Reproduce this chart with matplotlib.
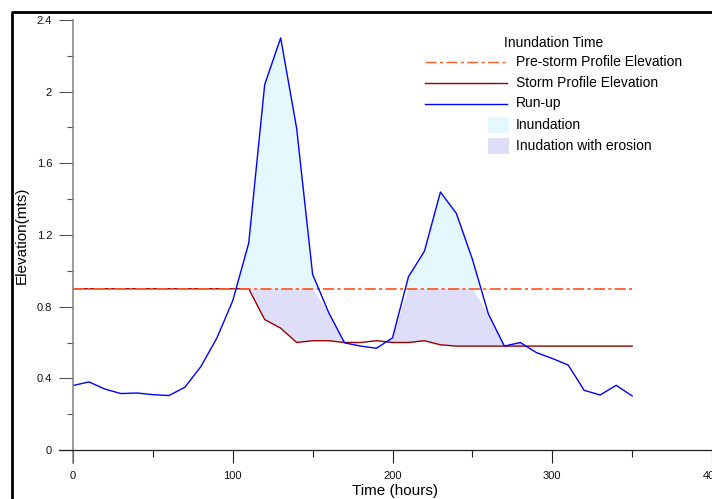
import numpy as np
import matplotlib
matplotlib.use("Agg")
import matplotlib.pyplot as plt
from matplotlib.lines import Line2D
from matplotlib.patches import Rectangle

plt.rcParams['font.family'] = ['Liberation Sans', 'DejaVu Sans']
plt.rcParams['lines.scale_dashes'] = False

# ---- data ----
time_h = [0, 10, 20, 30, 40, 50, 60, 70, 80, 90, 100, 110, 120, 130, 140, 150, 160, 170,
          180, 190, 200, 210, 220, 230, 240, 250, 260, 270, 280, 290, 300, 310, 320, 330, 340, 350]
runup = [0.36, 0.38, 0.34, 0.315, 0.318, 0.309, 0.304, 0.35, 0.465, 0.624, 0.833, 1.155, 2.04, 2.30,
         1.795, 0.98, 0.768, 0.598, 0.58, 0.568, 0.626, 0.967, 1.11, 1.44, 1.32, 1.065, 0.76, 0.58,
         0.60, 0.544, 0.511, 0.474, 0.333, 0.307, 0.361, 0.302]
prestorm = [0.9] * 36
storm = [0.9, 0.9, 0.9, 0.9, 0.9, 0.9, 0.9, 0.9, 0.9, 0.9, 0.9, 0.9, 0.728, 0.68, 0.60, 0.61,
         0.61, 0.60, 0.60, 0.61, 0.60, 0.60, 0.61, 0.587, 0.58, 0.58, 0.58, 0.58, 0.58, 0.58,
         0.58, 0.58, 0.58, 0.58, 0.58, 0.58]
xticks = [0, 100, 200, 300, 400]
yticks = [0, 0.4, 0.8, 1.2, 1.6, 2.0, 2.4]
ytick_labels = ['0', '0.4', '0.8', '1.2', '1.6', '2', '2.4']
legend_title = 'Inundation Time'
legend_labels = ['Pre-storm Profile Elevation', 'Storm Profile Elevation', 'Run-up',
                 'Inundation', 'Inudation with erosion']

t = np.array(time_h, float)
ru = np.array(runup, float)
pre = np.array(prestorm, float)
st = np.array(storm, float)

W, H = 712, 499
fig = plt.figure(figsize=(W / 100, H / 100), dpi=100)

def fp(x, y):
    return (x / W, 1 - y / H)

AX_L, AX_R, AX_T, AX_B = 73, 712, 20, 450
ax = fig.add_axes([AX_L / W, 1 - AX_B / H, (AX_R - AX_L) / W, (AX_B - AX_T) / H])
ax.set_xlim(0, 400)
ax.set_ylim(0, 2.4)

C_PRE = '#FF5F2A'
C_STORM = '#990000'
C_RUN = '#0000FF'
C_INUN = '#E4F8FD'
C_EROS = '#DEDEF9'
DASH = (8.0, 2.4, 2.2, 2.4)

# fills
ax.fill_between(t, pre, ru, where=ru > pre, interpolate=True, facecolor=C_INUN,
                edgecolor='none', zorder=1)
top = np.minimum(ru, pre)
ax.fill_between(t, st, top, where=top > st, interpolate=True, facecolor=C_EROS,
                edgecolor='none', zorder=1)

ax.plot(t, st, color=C_STORM, lw=1.0, zorder=3)
ax.plot(t, pre, color=C_PRE, lw=1.3, dashes=DASH, zorder=4)
ax.plot(t, ru, color=C_RUN, lw=1.0, zorder=5)

# axes styling
for s in ax.spines.values():
    s.set_visible(False)
ax.set_xticks(xticks)
ax.set_xticks([50, 150, 250, 350], minor=True)
ax.set_yticks(yticks)
ax.set_yticklabels(ytick_labels)
ax.set_yticks([0.2, 0.6, 1.0, 1.4, 1.8, 2.2], minor=True)
ax.tick_params(axis='y', which='major', length=10, width=0.8, color='#555555', pad=5,
               labelsize=8, labelcolor='#111111')
ax.tick_params(axis='y', which='minor', length=4.5, width=0.8, color='#555555')
ax.tick_params(axis='x', which='major', length=9, width=0.8, color='#222222', pad=6,
               labelsize=8, labelcolor='#111111')
ax.tick_params(axis='x', which='minor', length=5, width=0.8, color='#222222')

# axis lines (extend beyond origin)
fig.add_artist(Line2D([fp(AX_L, 0)[0]] * 2, [fp(0, AX_T)[1], fp(0, 463)[1]],
                      transform=fig.transFigure, color='#808080', lw=1.1))
fig.add_artist(Line2D([fp(59, 0)[0], 1.0], [fp(0, AX_B)[1]] * 2,
                      transform=fig.transFigure, color='#222222', lw=0.9))

# thick outer frame
fig.add_artist(Line2D([fp(12.2, 0)[0], fp(12.2, 0)[0], 1.01],
                      [-0.01, fp(0, 12.2)[1], fp(0, 12.2)[1]],
                      transform=fig.transFigure, color='black', lw=2.0))

# labels
fig.text(*fp(395, 491), 'Time (hours)', ha='center', va='center', fontsize=11)
fig.text(*fp(22, 235), 'Elevation(mts)', ha='center', va='center', fontsize=11,
         rotation=90)

# legend
fs = 10
fig.text(*fp(504, 43), legend_title, ha='left', va='center', fontsize=fs)
rows = [62, 83, 103.5, 125, 146.5]
xtext = 516
fig.add_artist(Line2D([fp(425, 0)[0], fp(507, 0)[0]], [fp(0, rows[0])[1]] * 2,
                      transform=fig.transFigure, color=C_PRE, lw=1.0, dashes=DASH))
fig.add_artist(Line2D([fp(425, 0)[0], fp(507, 0)[0]], [fp(0, rows[1])[1]] * 2,
                      transform=fig.transFigure, color=C_STORM, lw=1.0))
fig.add_artist(Line2D([fp(425, 0)[0], fp(507, 0)[0]], [fp(0, rows[2])[1]] * 2,
                      transform=fig.transFigure, color=C_RUN, lw=1.0))
for r, c in zip(rows[3:], [C_INUN, C_EROS]):
    x0, y0 = fp(488, r + 8)
    fig.add_artist(Rectangle((x0, y0), 21 / W, 16 / H, transform=fig.transFigure,
                             facecolor=c, edgecolor='none'))
for r, lab in zip(rows, legend_labels):
    fig.text(*fp(xtext, r), lab, ha='left', va='center', fontsize=fs)

fig.savefig('out.png', dpi=100)
